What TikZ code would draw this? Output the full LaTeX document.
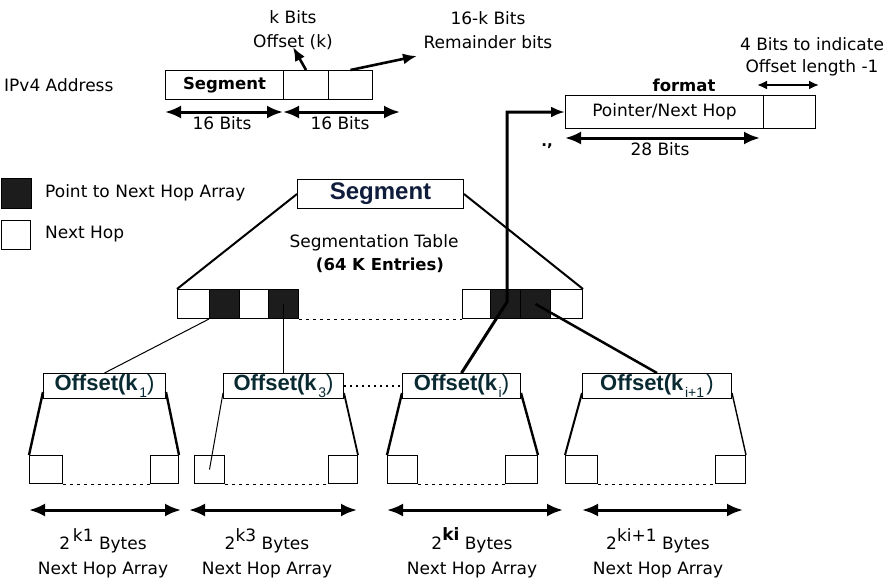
\documentclass[tikz,border=0pt]{standalone}
\usepackage{fontspec}
\setmainfont{DejaVu Sans}
\newfontfamily\arialf{Liberation Sans}
\usetikzlibrary{arrows.meta}
\definecolor{cellblack}{RGB}{28,28,28}
\definecolor{labtxt}{RGB}{10,42,50}
\definecolor{segtxt}{RGB}{15,28,60}
\tikzset{
  box/.style={draw, line width=1pt, inner sep=0pt, anchor=north west, fill=white},
  blk/.style={box, fill=cellblack},
  txt/.style={inner sep=0pt, font=\fontsize{17}{25}\selectfont, align=center},
  btxt/.style={inner sep=0pt, font=\fontsize{16.5}{20}\selectfont\bfseries},
  dimarrow/.style={{Latex[length=16pt,width=13pt]}-{Latex[length=16pt,width=13pt]}, line width=3pt},
  smallarrow/.style={{Latex[length=10pt,width=9pt]}-{Latex[length=10pt,width=9pt]}, line width=2.6pt},
  dashln/.style={line width=1pt, dash pattern=on 3pt off 4pt},
  offlab/.style={inner sep=0pt, text=labtxt},
}
\newcommand{\offlabel}[1]{{\arialf\fontsize{22}{24}\selectfont\bfseries Offset(k}\,\raisebox{-7pt}{\arialf\fontsize{14}{14}\selectfont #1}{\arialf\fontsize{22}{24}\selectfont )}}
\begin{document}
\begin{tikzpicture}[x=1pt,y=-1pt]
\useasboundingbox (0,0) rectangle (890,581);

% ---------- IPv4 address ----------
\node[txt, anchor=west] (ipv4) at (4,85) {IPv4 Address};
\node[box, minimum width=118pt, minimum height=29pt] (aseg) at (165,70) {};
\node[btxt] at (aseg.center) {Segment};
\node[box, minimum width=45pt, minimum height=29pt] (aoff) at (283,70) {};
\node[box, minimum width=44pt, minimum height=29pt] (arem) at (328,70) {};
\coordinate (b1l) at (165,112);
\coordinate (b1r) at (283,112);
\coordinate (b2r) at (400,112);
\draw[dimarrow] (b1l) -- (b1r);
\draw[dimarrow] (b1r) -- (b2r);
\node[txt] (l16a) at (222,123) {16 Bits};
\node[txt] (l16b) at (340,123) {16 Bits};

\node[txt, font=\fontsize{17}{24}\selectfont] (kbits) at (293,30) {k Bits\\Offset (k)};
\coordinate (kend) at (293,47);
\draw[-{Latex[length=14pt,width=11pt]}, line width=2.6pt] (aoff.north) -- (kend);
\node[txt, font=\fontsize{17}{24}\selectfont] (rbits) at (488,30) {16-k Bits\\Remainder bits};
\coordinate (rend) at (417,56);
\draw[-{Latex[length=14pt,width=11pt]}, line width=2.6pt] (arem.north) -- (rend);

% ---------- format ----------
\node[txt, font=\fontsize{17}{22}\selectfont] (fbits) at (812,57) {4 Bits to indicate\\Offset length -1};
\node[btxt] (fmt) at (684,85) {format};
\coordinate (f4l) at (757,85);
\coordinate (f4r) at (819,85);
\draw[smallarrow] (f4l) -- (f4r);
\node[box, minimum width=198pt, minimum height=33pt] (ptr) at (565,95) {};
\node[txt] at (ptr.center) {Pointer/Next Hop};
\node[box, minimum width=52pt, minimum height=33pt] (ptr2) at (763,95) {};
\coordinate (p28l) at (565,138);
\coordinate (p28r) at (760,138);
\draw[dimarrow] (p28l) -- (p28r);
\node[txt] (l28) at (660,149) {28 Bits};
\node[inner sep=0pt, font=\fontsize{15}{15}\selectfont\bfseries] (stray) at (547,146) {.,};

% ---------- legend ----------
\node[blk, minimum width=30pt, minimum height=30pt] (legb) at (1,178) {};
\node[txt, anchor=west] (legbt) at (45,193) {Point to Next Hop Array};
\node[box, minimum width=29pt, minimum height=29pt] (legw) at (1,220) {};
\node[txt, anchor=west] (legwt) at (45,234) {Next Hop};

% ---------- segment table ----------
\node[box, minimum width=166pt, minimum height=29pt] (segbox) at (297,179) {};
\node[inner sep=0pt, text=segtxt, font=\arialf\fontsize{24}{26}\selectfont\bfseries] at (segbox.center) {Segment};
\node[txt] (segtab) at (374,243) {Segmentation Table};
\node[btxt] (segent) at (380,265) {(64 K Entries)};

\node[box, minimum width=32pt, minimum height=29pt] (c1) at (177,289) {};
\node[blk, minimum width=30pt, minimum height=29pt] (c2) at (209,289) {};
\node[box, minimum width=29pt, minimum height=29pt] (c3) at (239,289) {};
\node[blk, minimum width=30pt, minimum height=29pt] (c4) at (268,289) {};
\node[box, minimum width=28pt, minimum height=29pt] (d1) at (462,289) {};
\node[blk, minimum width=30pt, minimum height=29pt] (d2) at (490,289) {};
\node[blk, minimum width=30pt, minimum height=29pt] (d3) at (520,289) {};
\node[box, minimum width=32pt, minimum height=29pt] (d4) at (550,289) {};
\draw[dashln] (c4.south east) -- (d1.south west);

\draw[line width=2pt] (segbox.west) -- (c1.north west);
\draw[line width=2pt] (segbox.east) -- (d4.north east);

% ---------- offset boxes ----------
\node[box, minimum width=122pt, minimum height=25pt] (ok1) at (43,373) {};
\node[offlab] at (ok1.center) {\offlabel{1}};
\node[box, minimum width=120pt, minimum height=25pt] (ok3) at (223,373) {};
\node[offlab] at (ok3.center) {\offlabel{3}};
\node[box, minimum width=118pt, minimum height=25pt] (oki) at (402,373) {};
\node[offlab] at (oki.center) {\offlabel{i}};
\node[box, minimum width=149pt, minimum height=25pt] (okj) at (582,373) {};
\node[offlab] at (okj.center) {\offlabel{i+1\,}};
\draw[line width=1.8pt, dash pattern=on 2pt off 4pt] (ok3.east) -- (oki.west);

% connectors from table
\draw[line width=1pt] (c2.south west) -- (ok1.north);
\draw[line width=1.5pt] (c4.center) -- (ok3.north);
\coordinate (pbend) at (507,302);
\draw[line width=3pt, -{Latex[length=14pt,width=11pt]}] (oki.north) -- (pbend) -- (pbend |- ptr.west) -- (ptr.west);
\draw[line width=2.5pt] (d3.center) -- (okj.north);

% ---------- next hop arrays ----------
\node[box, minimum width=33pt, minimum height=28pt] (g1a) at (29,455) {};
\node[box, minimum width=28pt, minimum height=28pt] (g1b) at (150,455) {};
\node[box, minimum width=30pt, minimum height=28pt] (g2a) at (194,455) {};
\node[box, minimum width=29pt, minimum height=28pt] (g2b) at (328,455) {};
\node[box, minimum width=30pt, minimum height=28pt] (g3a) at (387,455) {};
\node[box, minimum width=32pt, minimum height=28pt] (g3b) at (505,455) {};
\node[box, minimum width=32pt, minimum height=28pt] (g4a) at (565,455) {};
\node[box, minimum width=30pt, minimum height=28pt] (g4b) at (715,455) {};
\foreach \g in {1,2,3,4}{
  \draw[dashln] (g\g a.south east) -- (g\g b.south west);
}

\draw[line width=2.4pt] ([yshift=7pt]ok1.south west) -- (g1a.north west);
\draw[line width=2.4pt] ([yshift=7pt]ok1.south east) -- (g1b.north east);
\draw[line width=1pt] ([yshift=6pt]ok3.south west) -- (g2a.center);
\draw[line width=1.8pt] ([yshift=6pt]ok3.south east) -- (g2b.north east);
\draw[line width=2.4pt] ([yshift=6pt]oki.south west) -- (g3a.north west);
\draw[line width=2.4pt] ([yshift=6pt]oki.south east) -- (g3b.north east);
\draw[line width=2pt] ([yshift=6pt]okj.south west) -- (g4a.north west);
\draw[line width=1.4pt] ([yshift=6pt]okj.south east) -- (g4b.north east);

\coordinate (a1l) at (29,510);  \coordinate (a1r) at (181,510);
\coordinate (a2l) at (189,510); \coordinate (a2r) at (357,510);
\coordinate (a3l) at (387,510); \coordinate (a3r) at (563,510);
\coordinate (a4l) at (582,510); \coordinate (a4r) at (743,510);
\draw[dimarrow] (a1l) -- (a1r);
\draw[dimarrow] (a2l) -- (a2r);
\draw[dimarrow] (a3l) -- (a3r);
\draw[dimarrow] (a4l) -- (a4r);

\node[txt] (n1) at (103,553) {2\,\raisebox{8pt}{k1} Bytes\\Next Hop Array};
\node[txt] (n2) at (267,553) {2\raisebox{8pt}{k3} Bytes\\Next Hop Array};
\node[txt] (n3) at (472,553) {2\raisebox{9pt}{\bfseries ki} Bytes\\Next Hop Array};
\node[txt] (n4) at (658,553) {2\raisebox{8pt}{ki+1} Bytes\\Next Hop Array};
\end{tikzpicture}
\end{document}
